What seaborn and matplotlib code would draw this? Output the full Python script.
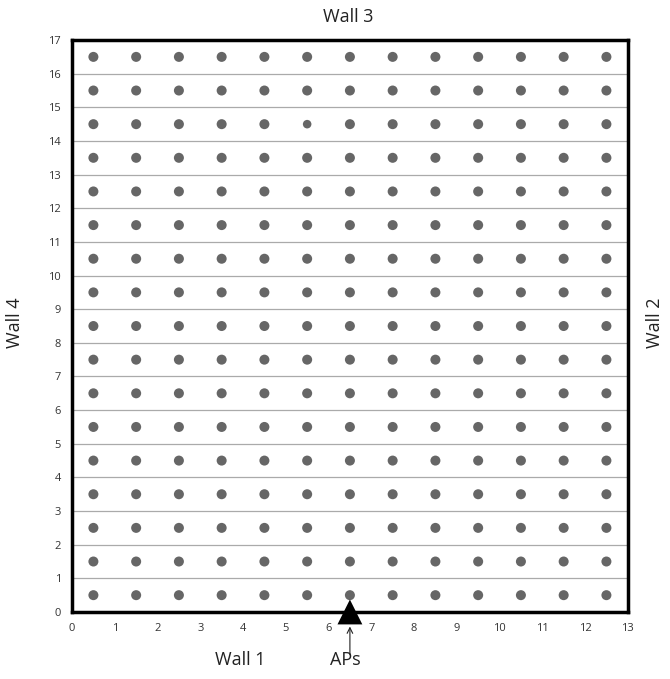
import pandas as pd
import seaborn as sns
import matplotlib.pyplot as plt

# measurement point columns / rows (m)
col_pos = [0.5, 1.5, 2.5, 3.5, 4.5, 5.5, 6.5, 7.5, 8.5, 9.5, 10.5, 11.5, 12.5]
row_pos = [0.5, 1.5, 2.5, 3.5, 4.5, 5.5, 6.5, 7.5, 8.5, 9.5, 10.5, 11.5, 12.5,
           13.5, 14.5, 15.5, 16.5]
small_point = (5.5, 14.5)  # this one is drawn a bit smaller in the figure
ap_x = [6.5]
ap_y = [0.0]
x_ticks = list(range(0, 14))
y_ticks = list(range(0, 18))

sns.set_style("white")
plt.rcParams['font.family'] = ['Open Sans', 'DejaVu Sans']

rows = []
for y in row_pos:
    for x in col_pos:
        rows.append({'x': x, 'y': y, 'size': 'small' if (x, y) == small_point else 'normal'})
df = pd.DataFrame(rows)

fig = plt.figure(figsize=(6.70, 6.79), dpi=100)
ax = fig.add_axes([0.1075, 0.0987, 0.8295, 0.8423])

sns.scatterplot(data=df, x='x', y='y', size='size', sizes={'normal': 52, 'small': 38},
                color='#666666', edgecolor='none', legend=False, ax=ax, zorder=3)
sns.scatterplot(x=ap_x, y=ap_y, marker='^', s=320, color='black', edgecolor='none',
                legend=False, ax=ax, zorder=5, clip_on=False)

ax.set_xlim(0, 13)
ax.set_ylim(0, 17)
ax.set_xticks(x_ticks)
ax.set_yticks(y_ticks)
ax.tick_params(axis='both', labelsize=8, labelcolor='#333333', length=0, pad=8)
ax.set_xlabel('')
ax.set_ylabel('')
for y in y_ticks[1:-1]:
    ax.axhline(y, color='#aaaaaa', lw=0.9, zorder=1)
for sp in ax.spines.values():
    sp.set_visible(True)
    sp.set_color('black')
    sp.set_linewidth(2.5)

ax.annotate('', xy=(ap_x[0], -0.35), xytext=(ap_x[0], -1.35),
            arrowprops=dict(arrowstyle='->', color='#222222', lw=0.8),
            annotation_clip=False)

fig.text(0.52, 0.975, 'Wall 3', ha='center', va='center', fontsize=13, color='#222222')
fig.text(0.358, 0.028, 'Wall 1', ha='center', va='center', fontsize=13, color='#222222')
fig.text(0.515, 0.028, 'APs', ha='center', va='center', fontsize=13, color='#222222')
fig.text(0.022, 0.525, 'Wall 4', ha='center', va='center', fontsize=13, rotation=90, color='#222222')
fig.text(0.978, 0.525, 'Wall 2', ha='center', va='center', fontsize=13, rotation=90, color='#222222')

fig.savefig('out.png', dpi=100)
